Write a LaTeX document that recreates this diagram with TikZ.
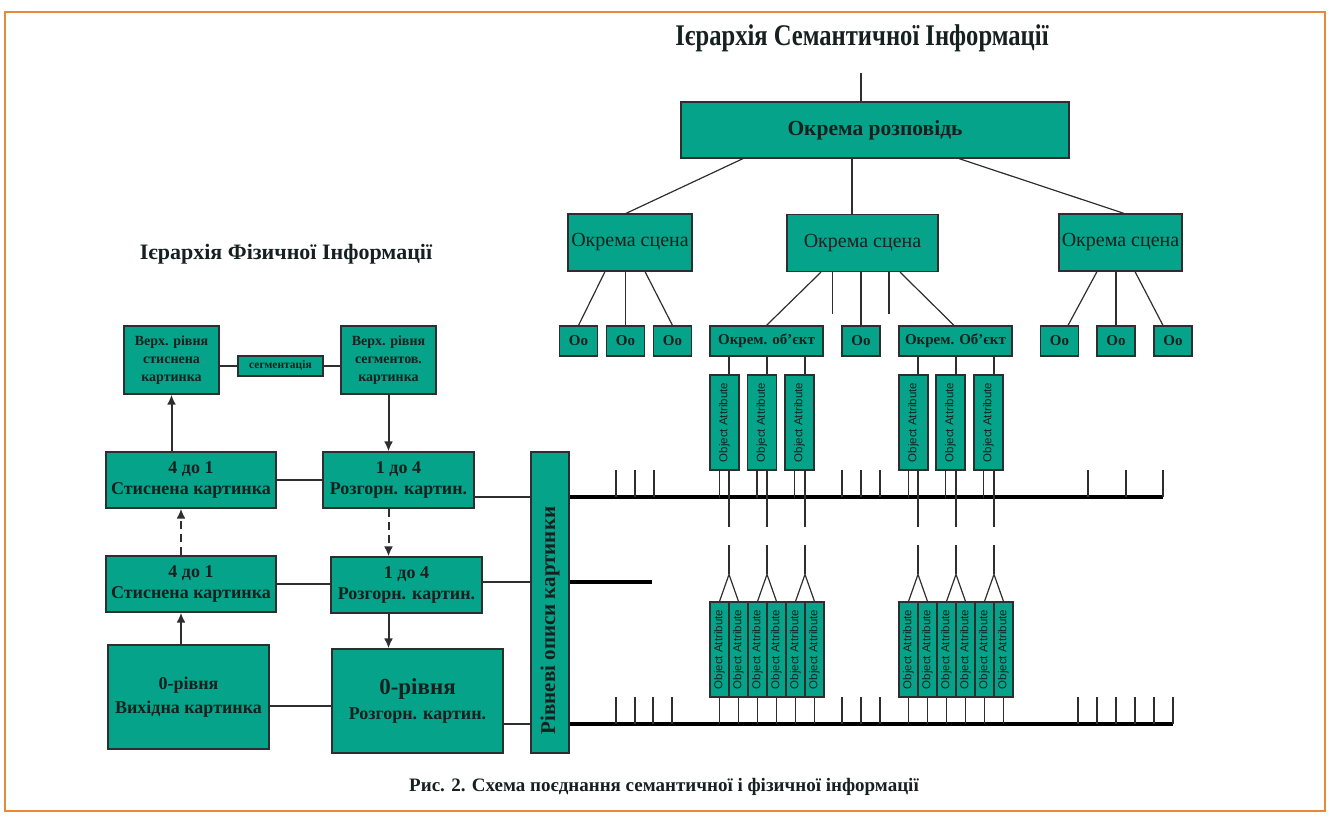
\documentclass[tikz,border=0pt]{standalone}
\usepackage{fontspec}
\setmainfont{Liberation Serif}
\setsansfont{Liberation Sans}
\newfontfamily\narrowserif[FakeStretch=0.82]{Liberation Serif}
\usetikzlibrary{arrows.meta,positioning,calc}
\definecolor{schteal}{HTML}{05A48A}
\definecolor{schline}{HTML}{2E2E2E}
\definecolor{schtext}{HTML}{16201F}
\definecolor{schframe}{HTML}{E8893A}

\begin{document}
\begin{tikzpicture}[
  x=1pt,y=-1pt,
  base/.style={draw=schline,fill=schteal,line width=1.2pt,inner sep=0pt,align=center,text=schtext},
  story/.style={base,minimum width=388,minimum height=56,font=\bfseries\fontsize{21.5}{25}\selectfont},
  scene/.style={base,minimum height=57,font=\fontsize{20}{24}\selectfont},
  leaf/.style={base,minimum width=38,minimum height=30,font=\bfseries\fontsize{15}{17}\selectfont},
  objbox/.style={base,minimum width=113,minimum height=30,font=\bfseries\fontsize{15}{17}\selectfont},
  attr/.style={base,minimum width=29,minimum height=95,font=\sffamily\fontsize{11.5}{13}\selectfont},
  attrthin/.style={attr,minimum width=19},
  phys/.style={base,minimum height=56,font=\bfseries\fontsize{18}{21}\selectfont},
  upper/.style={base,minimum width=95,minimum height=68,font=\bfseries\fontsize{14}{18}\selectfont},
  heading/.style={text=schtext,inner sep=0pt},
  tree/.style={line width=1.2pt,draw=schline},
  link/.style={line width=2pt,draw=schline},
  bus/.style={line width=4pt,draw=black},
  arr/.style={link,-{Latex[length=10pt,width=9pt]}},
  dasharr/.style={arr,dash pattern=on 8pt off 5pt}
]
\useasboundingbox (0,0) rectangle (1330,817);
\draw[schframe,line width=1.5pt] (5,12) rectangle (1325,811);

\node[heading,font=\narrowserif\bfseries\fontsize{30}{34}\selectfont] (semtitle) at (862,38) {Ієрархія Семантичної Інформації};
\node[heading,font=\bfseries\fontsize{22}{26}\selectfont] (phystitle) at (286,254) {Ієрархія Фізичної Інформації};
\node[heading,font=\bfseries\fontsize{19}{22}\selectfont] (caption) at (664,787) {Рис. 2. Схема поєднання семантичної і фізичної інформації};

\node[story] (story) at (875,130) {Окрема розповідь};
\coordinate (storytop) at (861,73);
\draw[tree] (storytop) -- (storytop |- story.north);

\node[scene,minimum width=124] (scenel) at (630,242.5) {Окрема сцена};
\node[scene,minimum width=151] (scenem) at (862.5,243) {Окрема сцена};
\node[scene,minimum width=123] (scener) at (1120.5,242.5) {Окрема сцена};
\draw[tree] ($(story.south)+(-132,0)$) -- ($(scenel.north)+(-4,0)$);
\draw[tree] ($(story.south)+(-23,0)$) -- ($(scenem.north)+(-10.5,0)$);
\draw[tree] ($(story.south)+(84,0)$) -- ($(scener.north)+(3.5,0)$);

\node[leaf] (ool1) at (578.5,341) {Оо};
\node[leaf] (ool2) at (625.5,341) {Оо};
\node[leaf] (ool3) at (672.5,341) {Оо};
\node[objbox] (obja) at (766.5,341) {Окрем. об’єкт};
\node[leaf] (oom) at (861,341) {Оо};
\node[objbox] (objb) at (955.5,341) {Окрем. Об’єкт};
\node[leaf] (oor1) at (1059.5,341) {Оо};
\node[leaf] (oor2) at (1116,341) {Оо};
\node[leaf] (oor3) at (1173,341) {Оо};

\draw[tree] ($(scenel.south)+(-25,0)$) -- (ool1.north);
\draw[tree] ($(scenel.south)+(-4.5,0)$) -- (ool2.north);
\draw[tree] ($(scenel.south)+(15,0)$) -- (ool3.north);
\draw[tree] ($(scenem.south)+(-41.5,0)$) -- (obja.north);
\draw[tree] ($(scenem.south)+(-30,0)$) -- +(0,42);
\draw[tree] ($(scenem.south)+(-1.5,0)$) -- (oom.north);
\draw[tree] ($(scenem.south)+(26.5,0)$) -- +(0,42);
\draw[tree] ($(scenem.south)+(37.5,0)$) -- ($(objb.north)+(-1.5,0)$);
\draw[tree] ($(scener.south)+(-23.5,0)$) -- ($(oor1.north)+(8.5,0)$);
\draw[tree] ($(scener.south)+(-4.5,0)$) -- (oor2.north);
\draw[tree] ($(scener.south)+(14.5,0)$) -- ($(oor3.north)+(-10,0)$);

\foreach \i/\x in {1/724.5,2/762,3/799.5,4/913.5,5/950.5,6/988.5}
  \node[attr] (at\i) at (\x,422.5) {\rotatebox{90}{Object Attribute}};
\foreach \i in {1,...,6} {
  \node[attrthin] (lb\i) at ({700.5+19*\i},649.5) {\rotatebox{90}{Object Attribute}};
  \node[attrthin] (lc\i) at ({889.5+19*\i},649.5) {\rotatebox{90}{Object Attribute}};
}

\node[base,minimum width=38,minimum height=301,font=\bfseries\fontsize{21}{24}\selectfont] (bar) at (550,602.5) {\rotatebox{90}{Рівневі описи картинки\hspace{36pt}}};
\coordinate (busu) at (1163,497);
\coordinate (busm) at (652,582);
\coordinate (busl) at (1173,724);
\coordinate (gapu) at (0,527);
\coordinate (gapl) at (0,545);
\draw[bus] (bar.east |- busu) -- (busu);
\draw[bus] (bar.east |- busm) -- (busm);
\draw[bus] (bar.east |- busl) -- (busl);

\foreach \x in {616,635,654,842,861,880,1088,1126,1163}
  \draw[tree] (\x,470) -- (\x,497);
\foreach \x in {616,635,653,672,842,861,880,1078,1097,1116,1135,1154,1173}
  \draw[tree] (\x,697) -- (\x,724);

\foreach \k/\a/\b/\o in {1/lb1/lb2/obja,2/lb3/lb4/obja,3/lb5/lb6/obja,4/lc1/lc2/objb,5/lc3/lc4/objb,6/lc5/lc6/objb} {
  \coordinate (ap\k) at ($(\a.north)!.5!(\b.north)+(0,-27)$);
  \draw[tree] (\a.north) -- (ap\k) -- (\b.north);
  \draw[tree] (ap\k) -- (ap\k |- gapl);
  \draw[tree] (ap\k |- \o.south) -- (ap\k |- at\k.north);
  \draw[tree] (ap\k |- at\k.south) -- (ap\k |- gapu);
  \draw[tree] ([xshift=-5pt]at\k.south) -- +(0,27);
  \draw[tree] (\a.south) -- (\a.south |- busl);
  \draw[tree] (\b.south) -- (\b.south |- busl);
}

\node[upper] (vs) at (171.5,360) {Верх. рівня\\стиснена\\картинка};
\node[base,minimum width=85,minimum height=20,font=\bfseries\fontsize{11.5}{13}\selectfont] (seg) at (280.5,366) {сегментація};
\node[upper] (vg) at (388.5,360) {Верх. рівня\\сегментов.\\картинка};
\draw[link] (seg.west) -- (seg.west -| vs.east);
\draw[link] (seg.east) -- (seg.east -| vg.west);

\node[phys,minimum width=170] (c1) at (191,480) {4 до 1\\Стиснена картинка};
\node[phys,minimum width=151] (e1) at (398.5,480) {1 до 4\\Розгорн. картин.};
\node[phys,minimum width=170] (c2) at (191,584) {4 до 1\\Стиснена картинка};
\node[phys,minimum width=151] (e2) at (406.5,585) {1 до 4\\Розгорн. картин.};
\node[phys,minimum width=161,minimum height=104,font=\bfseries\fontsize{18}{24}\selectfont] (z1) at (188.5,697) {0-рівня\\Вихідна картинка};
\node[phys,minimum width=171,minimum height=104,font=\bfseries\fontsize{18}{25}\selectfont] (z2) at (417.5,701) {{\fontsize{23}{26}\selectfont 0-рівня}\\Розгорн. картин.};

\draw[link] (c1.east) -- (e1.west);
\draw[link] (c2.east) -- (c2.east -| e2.west);
\draw[link] ($(z1.east)+(0,9)$) -- ($(z2.west)+(0,5)$);
\draw[link] (e1.east |- busu) -- (bar.west |- busu);
\draw[link] (e2.east |- busm) -- (bar.west |- busm);
\draw[link] (z2.east |- busl) -- (bar.west |- busl);

\draw[arr] (c1.north -| vs) -- (vs.south);
\draw[dasharr] ($(c2.north)+(-10,0)$) -- ($(c1.south)+(-10,0)$);
\draw[arr] ($(z1.north)+(-7.5,0)$) -- ($(c2.south)+(-10,0)$);
\draw[arr] (vg.south) -- (vg.south |- e1.north);
\draw[dasharr] (e1.south -| vg) -- (e2.north -| vg);
\draw[arr] (e2.south -| vg) -- (z2.north -| vg);
\end{tikzpicture}
\end{document}
